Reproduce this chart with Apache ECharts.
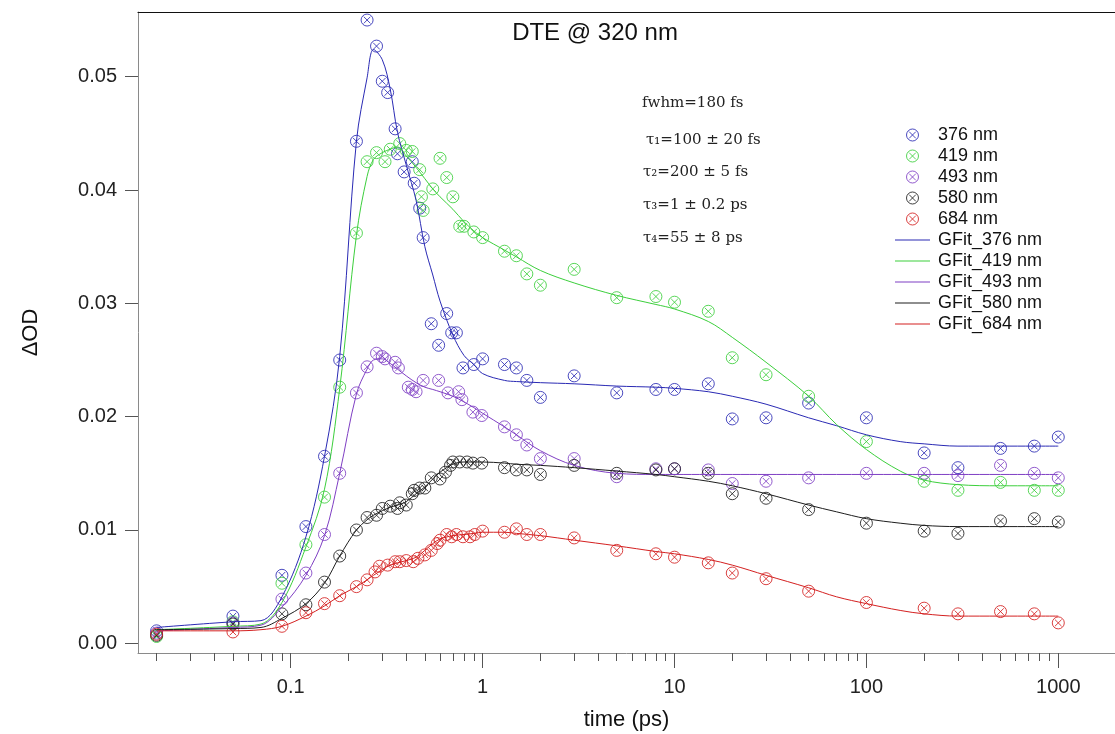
<!DOCTYPE html>
<html>
<head>
<meta charset="utf-8">
<script src="https://cdn.jsdelivr.net/npm/echarts@6/dist/echarts.min.js"></script>
<style>
html,body{margin:0;padding:0;background:#fff;}
#chart{width:1115px;height:734px;}
</style>
</head>
<body>
<div id="chart"></div>
<script>
// ---- data (time in ps, ΔOD) ----
const seriesNames = ['376 nm','419 nm','493 nm','580 nm','684 nm'];
const fitNames = ['GFit_376 nm','GFit_419 nm','GFit_493 nm','GFit_580 nm','GFit_684 nm'];
const colors = ['#2a2ab4','#3ccf3c','#7f3fc4','#1e1e1e','#d42020'];

const yTicks = [0, 0.01, 0.02, 0.03, 0.04, 0.05];
const xMajorTicks = [0.1, 1, 10, 100, 1000];
const xMinorTicks = [0.02,0.03,0.04,0.05,0.06,0.07,0.08,0.09,
  0.2,0.3,0.4,0.5,0.6,0.7,0.8,0.9, 2,3,4,5,6,7,8,9,
  20,30,40,50,60,70,80,90, 200,300,400,500,600,700,800,900];

const data376 = [[0.02,0.0011],[0.05,0.0024],[0.09,0.0060],[0.12,0.0103],[0.15,0.0165],[0.18,0.0250],[0.22,0.0443],[0.25,0.0550],[0.28,0.0527],[0.30,0.0496],[0.32,0.0486],[0.35,0.0454],[0.36,0.0432],[0.39,0.0416],[0.43,0.0425],[0.44,0.0406],[0.47,0.0384],[0.49,0.0358],[0.54,0.0282],[0.59,0.0263],[0.65,0.0291],[0.69,0.0274],[0.73,0.0274],[0.79,0.0243],[0.9,0.0246],[1.0,0.0251],[1.3,0.0246],[1.5,0.0243],[1.7,0.0232],[2,0.0217],[3,0.0236],[5,0.0221],[8,0.0224],[10,0.0224],[15,0.0229],[20,0.0198],[30,0.0199],[50,0.0212],[100,0.0199],[200,0.0168],[300,0.0155],[500,0.0172],[750,0.0174],[1000,0.0182]];
const data419 = [[0.02,0.0006],[0.05,0.0019],[0.09,0.0053],[0.12,0.0087],[0.15,0.0129],[0.18,0.0226],[0.22,0.0362],[0.25,0.0425],[0.28,0.0433],[0.31,0.0425],[0.33,0.0436],[0.37,0.0441],[0.40,0.0435],[0.43,0.0434],[0.47,0.0418],[0.48,0.0394],[0.49,0.0382],[0.55,0.0401],[0.6,0.0428],[0.65,0.0411],[0.7,0.0394],[0.76,0.0368],[0.8,0.0368],[0.9,0.0363],[1.0,0.0358],[1.3,0.0346],[1.5,0.0342],[1.7,0.0326],[2,0.0316],[3,0.0330],[5,0.0305],[8,0.0306],[10,0.0301],[15,0.0293],[20,0.0252],[30,0.0237],[50,0.0218],[100,0.0178],[200,0.0143],[300,0.0135],[500,0.0142],[750,0.0135],[1000,0.0135]];
const data493 = [[0.02,0.0009],[0.05,0.0018],[0.09,0.0039],[0.12,0.0062],[0.15,0.0096],[0.18,0.0150],[0.22,0.0221],[0.25,0.0244],[0.28,0.0256],[0.30,0.0253],[0.31,0.0251],[0.35,0.0248],[0.364,0.0243],[0.41,0.0226],[0.43,0.0224],[0.45,0.0222],[0.49,0.0232],[0.59,0.0232],[0.66,0.0221],[0.75,0.0222],[0.78,0.0215],[0.89,0.0204],[0.99,0.0201],[1.3,0.0191],[1.5,0.0184],[1.7,0.0175],[2,0.0163],[3,0.0163],[5,0.0147],[8,0.0154],[10,0.0154],[15,0.0153],[20,0.0141],[30,0.0143],[50,0.0146],[100,0.0150],[200,0.0150],[300,0.0148],[500,0.0157],[750,0.0150],[1000,0.0146]];
const data580 = [[0.02,0.0007],[0.05,0.0017],[0.09,0.0026],[0.12,0.0034],[0.15,0.0054],[0.18,0.0077],[0.22,0.0100],[0.25,0.0111],[0.28,0.0113],[0.30,0.0119],[0.33,0.0121],[0.36,0.0119],[0.37,0.0124],[0.40,0.0122],[0.43,0.0132],[0.44,0.0135],[0.47,0.0137],[0.50,0.0137],[0.54,0.0146],[0.60,0.0145],[0.64,0.0151],[0.68,0.0157],[0.70,0.0160],[0.76,0.0160],[0.83,0.0160],[0.89,0.0159],[0.99,0.0159],[1.3,0.0155],[1.5,0.0153],[1.7,0.0153],[2,0.0149],[3,0.0157],[5,0.0150],[8,0.0153],[10,0.0154],[15,0.0150],[20,0.0132],[30,0.0128],[50,0.0118],[100,0.0106],[200,0.0099],[300,0.0097],[500,0.0108],[750,0.0110],[1000,0.0107]];
const data684 = [[0.02,0.0008],[0.05,0.0010],[0.09,0.0015],[0.12,0.0027],[0.15,0.0035],[0.18,0.0042],[0.22,0.0050],[0.25,0.0056],[0.275,0.0063],[0.29,0.0068],[0.32,0.0069],[0.35,0.0072],[0.37,0.0072],[0.40,0.0073],[0.435,0.0072],[0.46,0.0075],[0.50,0.0078],[0.54,0.0082],[0.58,0.0088],[0.60,0.0091],[0.65,0.0096],[0.69,0.0094],[0.73,0.0096],[0.79,0.0094],[0.86,0.0094],[0.91,0.0096],[1.0,0.0099],[1.3,0.0098],[1.5,0.0101],[1.7,0.0096],[2,0.0096],[3,0.0093],[5,0.0082],[8,0.0079],[10,0.0076],[15,0.0071],[20,0.0062],[30,0.0057],[50,0.0046],[100,0.0036],[200,0.0031],[300,0.0026],[500,0.0028],[750,0.0026],[1000,0.0018]];

// fit curves sampled at these times
const fitT = [0.02,0.05,0.07,0.09,0.12,0.15,0.18,0.22,0.25,0.27,0.3,0.33,0.36,0.4,0.45,0.5,0.55,0.6,0.7,0.8,0.9,1,1.3,1.5,2,3,5,8,10,15,20,30,50,70,100,150,200,300,500,750,1000];
const fit376 = [0.0014,0.0019,0.0020,0.0041,0.0094,0.0165,0.0253,0.0443,0.0499,0.0524,0.0515,0.0489,0.0451,0.0422,0.0391,0.0350,0.0325,0.0302,0.0272,0.0254,0.0246,0.0238,0.0232,0.0231,0.0230,0.0229,0.0227,0.0226,0.0225,0.0222,0.0218,0.0211,0.0199,0.0192,0.0184,0.0178,0.0176,0.0174,0.0174,0.0174,0.0174];
const fit419 = [0.0012,0.0015,0.0017,0.0036,0.0085,0.0136,0.0225,0.0360,0.0412,0.0427,0.0433,0.0436,0.0438,0.0430,0.0420,0.0410,0.0401,0.0394,0.0383,0.0372,0.0364,0.0358,0.0347,0.0341,0.0329,0.0318,0.0307,0.0299,0.0295,0.0284,0.0270,0.0248,0.0218,0.0193,0.0171,0.0152,0.0144,0.0140,0.0139,0.0139,0.0139];
const fit493 = [0.0011,0.0014,0.0016,0.0032,0.0060,0.0095,0.0150,0.0220,0.0242,0.0250,0.0251,0.0247,0.0242,0.0236,0.0230,0.0226,0.0224,0.0222,0.0218,0.0213,0.0208,0.0203,0.0191,0.0184,0.0170,0.0157,0.0150,0.0149,0.0149,0.0149,0.0149,0.0149,0.0149,0.0149,0.0149,0.0149,0.0149,0.0149,0.0149,0.0149,0.0149];
const fit580 = [0.0012,0.0013,0.0014,0.0022,0.0035,0.0053,0.0077,0.0100,0.0109,0.0113,0.0117,0.0120,0.0122,0.0125,0.0132,0.0138,0.0145,0.0151,0.0158,0.0160,0.0160,0.0160,0.0159,0.0158,0.0157,0.0155,0.0152,0.0149,0.0147,0.0143,0.0139,0.0132,0.0122,0.0116,0.0110,0.0106,0.0104,0.0103,0.0103,0.0103,0.0103];
const fit684 = [0.0011,0.0011,0.0012,0.0015,0.0024,0.0033,0.0042,0.0050,0.0056,0.0060,0.0065,0.0069,0.0071,0.0073,0.0076,0.0082,0.0088,0.0092,0.0095,0.0096,0.0097,0.0098,0.0098,0.0097,0.0095,0.0091,0.0086,0.0081,0.0079,0.0074,0.0069,0.0060,0.0049,0.0041,0.0035,0.0029,0.0026,0.0024,0.0024,0.0024,0.0024];

const annoLines = ['fwhm=180 fs','τ₁=100 ± 20 fs','τ₂=200 ± 5 fs','τ₃=1 ± 0.2 ps','τ₄=55 ± 8 ps'];

// ---- build ----
const scatterData = [data376, data419, data493, data580, data684];
const fitData = [fit376, fit419, fit493, fit580, fit684];
const X_MIN = 0.016, X_MAX = 1975;
const Y_MIN = -0.000856, Y_MAX = 0.05571;
const markerPath = 'path://M0,-10A10,10,0,1,1,0,10A10,10,0,1,1,0,-10ZM-5.5,-5.5L5.5,5.5M5.5,-5.5L-5.5,5.5';
const lineIcon = 'path://M0,0L35,0L35,1.2L0,1.2Z';
const SANS = '"Liberation Sans", Arial, sans-serif';

const series = [];
scatterData.forEach((d, i) => {
  series.push({
    name: seriesNames[i], type: 'scatter', xAxisIndex: 0, yAxisIndex: 0,
    data: d, symbol: markerPath, symbolSize: 12,
    itemStyle: { color: 'rgba(0,0,0,0)', borderColor: colors[i], borderWidth: 1, opacity: 0.85 },
    emphasis: { disabled: true }, z: 2
  });
});
fitData.forEach((v, i) => {
  series.push({
    name: fitNames[i], type: 'line', xAxisIndex: 0, yAxisIndex: 0,
    data: fitT.map((t, k) => [t, v[k]]), symbol: 'none', smooth: 0.35,
    lineStyle: { color: colors[i], width: 1 }, itemStyle: { color: colors[i] },
    emphasis: { disabled: true }, z: 3
  });
});

const legendData = seriesNames.map(n => ({ name: n }))
  .concat(fitNames.map(n => ({ name: n, icon: lineIcon, itemStyle: { borderWidth: 0 } })));

const graphic = [{
  type: 'text', x: 595, y: 33,
  style: { text: 'DTE @ 320 nm', fontSize: 24, fontFamily: SANS, fill: '#111', align: 'center', verticalAlign: 'middle' }
}];
const annoPos = [[642,103],[646,140],[643,172],[643,205],[643,238]];
annoLines.forEach((s, i) => {
  graphic.push({ type: 'text', x: annoPos[i][0], y: annoPos[i][1],
    style: { text: s, fontSize: 15, fontFamily: '"DejaVu Serif", serif', fill: '#222', align: 'left', verticalAlign: 'middle' } });
});

const chart = echarts.init(document.getElementById('chart'), null, { renderer: 'canvas' });
chart.setOption({
  animation: false,
  backgroundColor: '#fff',
  grid: { left: 138, top: 12, right: 0, bottom: 81, containLabel: false, outerBoundsMode: 'none' },
  legend: {
    orient: 'vertical', left: 890, top: 121, itemWidth: 35, itemHeight: 12, itemGap: 3,
    data: legendData, selectedMode: false,
    itemStyle: { borderWidth: 1 },
    textStyle: { fontSize: 18, fontFamily: SANS, color: '#111', padding: [0, 0, 0, 3] }
  },
  xAxis: [{
    type: 'log', min: X_MIN, max: X_MAX, position: 'bottom',
    name: 'time (ps)', nameLocation: 'middle', nameGap: 56,
    nameTextStyle: { fontSize: 22, fontFamily: SANS, color: '#111' },
    axisLine: { show: true, onZero: false, lineStyle: { color: '#8a8a8a', width: 1 } },
    axisTick: { show: true, length: 15, customValues: xMajorTicks, lineStyle: { color: '#555' } },
    axisLabel: { customValues: xMajorTicks, fontSize: 20, fontFamily: SANS, color: '#222', margin: 24,
      formatter: v => String(v) },
    splitLine: { show: false }, minorTick: { show: false }
  }, {
    type: 'log', min: X_MIN, max: X_MAX, position: 'bottom',
    axisLine: { show: false, onZero: false },
    axisTick: { show: true, length: 8, customValues: xMinorTicks, lineStyle: { color: '#555' } },
    axisLabel: { show: false }, splitLine: { show: false }
  }, {
    type: 'value', min: 0, max: 1, position: 'top',
    axisLine: { show: true, onZero: false, lineStyle: { color: '#111', width: 1.2 } },
    axisTick: { show: false }, axisLabel: { show: false }, splitLine: { show: false }
  }],
  yAxis: [{
    type: 'value', min: Y_MIN, max: Y_MAX,
    name: 'ΔOD', nameLocation: 'middle', nameGap: 96, nameRotate: 90,
    nameTextStyle: { fontSize: 22, fontFamily: SANS, color: '#111' },
    axisLine: { show: true, onZero: false, lineStyle: { color: '#8a8a8a', width: 1 } },
    axisTick: { show: true, length: 13, customValues: yTicks, lineStyle: { color: '#555' } },
    axisLabel: { customValues: yTicks, fontSize: 20, fontFamily: SANS, color: '#222', margin: 21,
      formatter: v => v.toFixed(2) },
    splitLine: { show: false }
  }],
  graphic: graphic,
  series: series
});
</script>
</body>
</html>
